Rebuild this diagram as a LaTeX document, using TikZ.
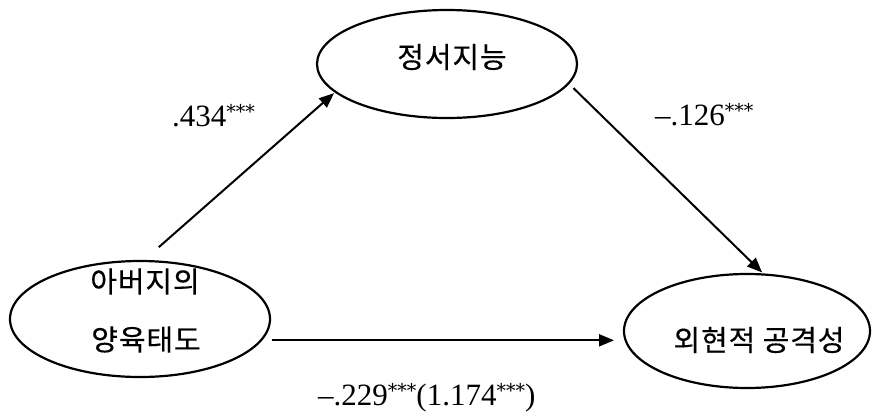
\documentclass[tikz,border=0pt]{standalone}
\usepackage{fontspec}
\setmainfont{Liberation Serif}
\newfontfamily\kor[FakeBold=0.35,LetterSpace=3]{Noto Sans CJK KR}
\newfontfamily\starfont{DejaVu Serif}
\usetikzlibrary{shapes.geometric,arrows.meta}

% significance stars, set as a raised superscript
\newcommand\sigstars{\raisebox{8pt}{\starfont\fontsize{19}{19}\selectfont ***}}

\begin{document}
\begin{tikzpicture}[x=1pt,y=-1pt,
  var/.style={ellipse, draw, line width=2.2pt, inner sep=0pt, outer sep=0pt},
  lbl/.style={font=\kor\fontsize{29}{29}\selectfont, inner sep=0pt},
  coef/.style={font=\fontsize{31}{31}\selectfont, inner sep=0pt, anchor=base west},
  effect/.style={line width=2pt, -{Triangle[length=15pt,width=12pt]}}]
\useasboundingbox (0,0) rectangle (873,413);

% variables
\node[var, minimum width=260pt, minimum height=116pt] (X) at (140,319) {};
\node[var, minimum width=260pt, minimum height=108pt] (M) at (447,64) {};
\node[var, minimum width=246pt, minimum height=114pt] (Y) at (747,331) {};

\node[lbl] (Xa) at (145,281.5) {아버지의};
\node[lbl] (Xb) at (146,339.5) {양육태도};
\node[lbl] (Mt) at (452,57) {정서지능};
\node[lbl] (Yt) at (759,340) {외현적 공격성};

% paths
\draw[effect, shorten <=21pt, shorten >=2pt] (X.87) -- (M.194);
\draw[effect, shorten <=7pt, shorten >=3pt] (M.-9) -- (Y.73);
\draw[effect, shorten <=10.7pt, shorten >=10pt] (X.-10.9) -- (X.-10.9 -| Y.west);

% coefficients
\node[coef] (a) at (172,126) {.434\sigstars};
\node[coef] (b) at (655,125) {--.126\sigstars};
\node[coef] (c) at (318,405) {--.229\sigstars(1.174\sigstars)};
\end{tikzpicture}
\end{document}
